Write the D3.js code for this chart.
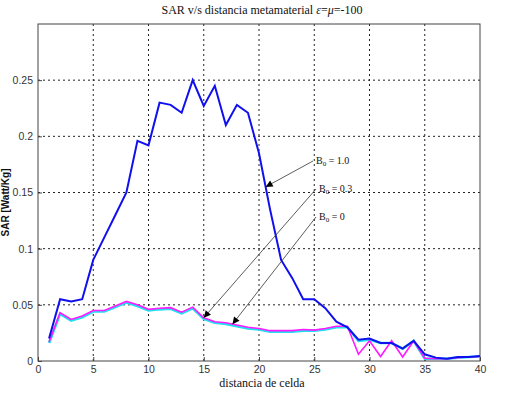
<!DOCTYPE html>
<html>
<head>
<meta charset="utf-8">
<script src="https://cdn.jsdelivr.net/npm/d3@7"></script>
<style>
  body { margin: 0; background: #fff; }
  .tick text { font-family: Arial, "Liberation Sans", sans-serif; font-size: 10.5px; fill: #333; }
</style>
</head>
<body>
<div id="chart"></div>
<script>
// cell distance 1..40
const cells = d3.range(1, 41);

// B0 = 1.0
const sarB10 = [0.020, 0.055, 0.053, 0.055, 0.090, 0.110, 0.130, 0.150, 0.196, 0.192,
                0.230, 0.228, 0.221, 0.250, 0.227, 0.245, 0.210, 0.228, 0.221, 0.185,
                0.135, 0.090, 0.074, 0.055, 0.055, 0.047, 0.035, 0.030, 0.019, 0.020,
                0.016, 0.016, 0.011, 0.018, 0.006, 0.003, 0.002, 0.0035, 0.0035, 0.0045];

// B0 = 0.3
const sarB03 = [0.017, 0.043, 0.037, 0.040, 0.045, 0.045, 0.049, 0.053, 0.050, 0.046,
                0.047, 0.0475, 0.0435, 0.048, 0.0385, 0.035, 0.034, 0.032, 0.030, 0.029,
                0.027, 0.027, 0.027, 0.028, 0.0275, 0.029, 0.031, 0.031, 0.006, 0.018,
                0.004, 0.018, 0.0035, 0.018, 0.0025, 0.002, 0.002, 0.003, 0.0035, 0.004];

// B0 = 0
const sarB0 = [0.016, 0.042, 0.036, 0.039, 0.044, 0.044, 0.048, 0.052, 0.049, 0.045,
               0.046, 0.0465, 0.0425, 0.047, 0.0375, 0.034, 0.033, 0.031, 0.029, 0.028,
               0.026, 0.026, 0.026, 0.027, 0.027, 0.028, 0.030, 0.030, 0.018, 0.019,
               0.016, 0.016, 0.011, 0.018, 0.002, 0.002, 0.002, 0.003, 0.0035, 0.004];

const xTicks = [0, 5, 10, 15, 20, 25, 30, 35, 40];
const yTicks = [0, 0.05, 0.1, 0.15, 0.2, 0.25];

const notes = [
  {label: "1.0", series: sarB10, at: 20.6, tx: 316, ty: 164},
  {label: "0.3", series: sarB03, at: 15.0, tx: 319, ty: 192},
  {label: "0",   series: sarB03, at: 17.6, tx: 319, ty: 220}
];

const width = 507, height = 393;
const margin = {top: 24, right: 27, bottom: 32, left: 38};

const svg = d3.select("#chart").append("svg")
    .attr("width", width)
    .attr("height", height);

const x = d3.scaleLinear().domain([0, 40]).range([margin.left, width - margin.right]);
const y = d3.scaleLinear().domain([0, 0.3]).range([height - margin.bottom, margin.top]);

// grid
svg.append("g").selectAll("line.vg")
    .data(xTicks.slice(1, -1))
    .enter().append("line")
    .attr("x1", d => x(d)).attr("x2", d => x(d))
    .attr("y1", y(0)).attr("y2", y(0.3))
    .attr("stroke", "#222").attr("stroke-width", 1)
    .attr("stroke-dasharray", "2,3");

svg.append("g").selectAll("line.hg")
    .data(yTicks.slice(1))
    .enter().append("line")
    .attr("x1", x(0)).attr("x2", x(40))
    .attr("y1", d => y(d)).attr("y2", d => y(d))
    .attr("stroke", "#222").attr("stroke-width", 1)
    .attr("stroke-dasharray", "2,3");

// axes
const xAxis = svg.append("g")
    .attr("transform", `translate(0,${y(0)})`)
    .call(d3.axisBottom(x).tickValues(xTicks).tickSizeInner(-4).tickSizeOuter(0).tickPadding(5));
const yAxis = svg.append("g")
    .attr("transform", `translate(${x(0)},0)`)
    .call(d3.axisLeft(y).tickValues(yTicks).tickSizeInner(-4).tickSizeOuter(0).tickPadding(5)
        .tickFormat(d => d === 0 ? "0" : String(d)));
[xAxis, yAxis].forEach(a => {
    a.select(".domain").remove();
    a.selectAll(".tick line").attr("stroke", "#444");
});

// box
svg.append("rect")
    .attr("x", x(0)).attr("y", y(0.3))
    .attr("width", x(40) - x(0)).attr("height", y(0) - y(0.3))
    .attr("fill", "none").attr("stroke", "#444").attr("stroke-width", 1);

// lines
const line = d3.line().x((d, i) => x(cells[i])).y(d => y(d));

svg.append("path").datum(sarB0)
    .attr("d", line).attr("fill", "none")
    .attr("stroke", "#22e0f0").attr("stroke-width", 2.6);
svg.append("path").datum(sarB03)
    .attr("d", line).attr("fill", "none")
    .attr("stroke", "#ff1aff").attr("stroke-width", 1.6);
svg.append("path").datum(sarB10)
    .attr("d", line).attr("fill", "none")
    .attr("stroke", "#1010ee").attr("stroke-width", 2);

// annotations
svg.append("defs").append("marker")
    .attr("id", "arr")
    .attr("viewBox", "0 0 10 10")
    .attr("refX", 10).attr("refY", 5)
    .attr("markerWidth", 9).attr("markerHeight", 7)
    .attr("markerUnits", "userSpaceOnUse")
    .attr("orient", "auto")
    .append("path").attr("d", "M0,0 L10,5 L0,10 z").attr("fill", "#000");

notes.forEach(n => {
    const i0 = Math.floor(n.at) - 1;
    const f = n.at - Math.floor(n.at);
    const v = n.series[i0] + (n.series[i0 + 1] - n.series[i0]) * f;
    svg.append("line")
        .attr("x1", n.tx - 3).attr("y1", n.ty - 3)
        .attr("x2", x(n.at)).attr("y2", y(v))
        .attr("stroke", "#333").attr("stroke-width", 0.8)
        .attr("marker-end", "url(#arr)");
    const t = svg.append("text")
        .attr("x", n.tx).attr("y", n.ty)
        .attr("font-family", "'Liberation Serif', 'Times New Roman', serif")
        .attr("font-size", 10).attr("fill", "#111");
    t.append("tspan").text("B");
    t.append("tspan").attr("dy", 2).attr("font-size", 7).text("0");
    t.append("tspan").attr("dy", -2).text(" = " + n.label);
});

// title
const title = svg.append("text")
    .attr("x", (x(0) + x(40)) / 2 + 3).attr("y", 14)
    .attr("text-anchor", "middle")
    .attr("font-family", "'Liberation Serif', 'Times New Roman', serif")
    .attr("font-size", 12).attr("fill", "#111");
title.append("tspan").text("SAR v/s distancia metamaterial ");
title.append("tspan").attr("font-style", "italic").text("ε");
title.append("tspan").text("=");
title.append("tspan").attr("font-style", "italic").text("μ");
title.append("tspan").text("=-100");

// axis labels
svg.append("text")
    .attr("x", (x(0) + x(40)) / 2 + 3).attr("y", 387)
    .attr("text-anchor", "middle")
    .attr("font-family", "'Liberation Serif', 'Times New Roman', serif")
    .attr("font-size", 12).attr("fill", "#111")
    .text("distancia de celda");

svg.append("text")
    .attr("transform", `translate(9,${(y(0) + y(0.3)) / 2 + 10}) rotate(-90)`)
    .attr("text-anchor", "middle")
    .attr("font-family", "Arial, 'Liberation Sans', sans-serif")
    .attr("font-size", 10).attr("font-weight", "bold").attr("fill", "#111")
    .text("SAR [Watt/Kg]");
</script>
</body>
</html>
